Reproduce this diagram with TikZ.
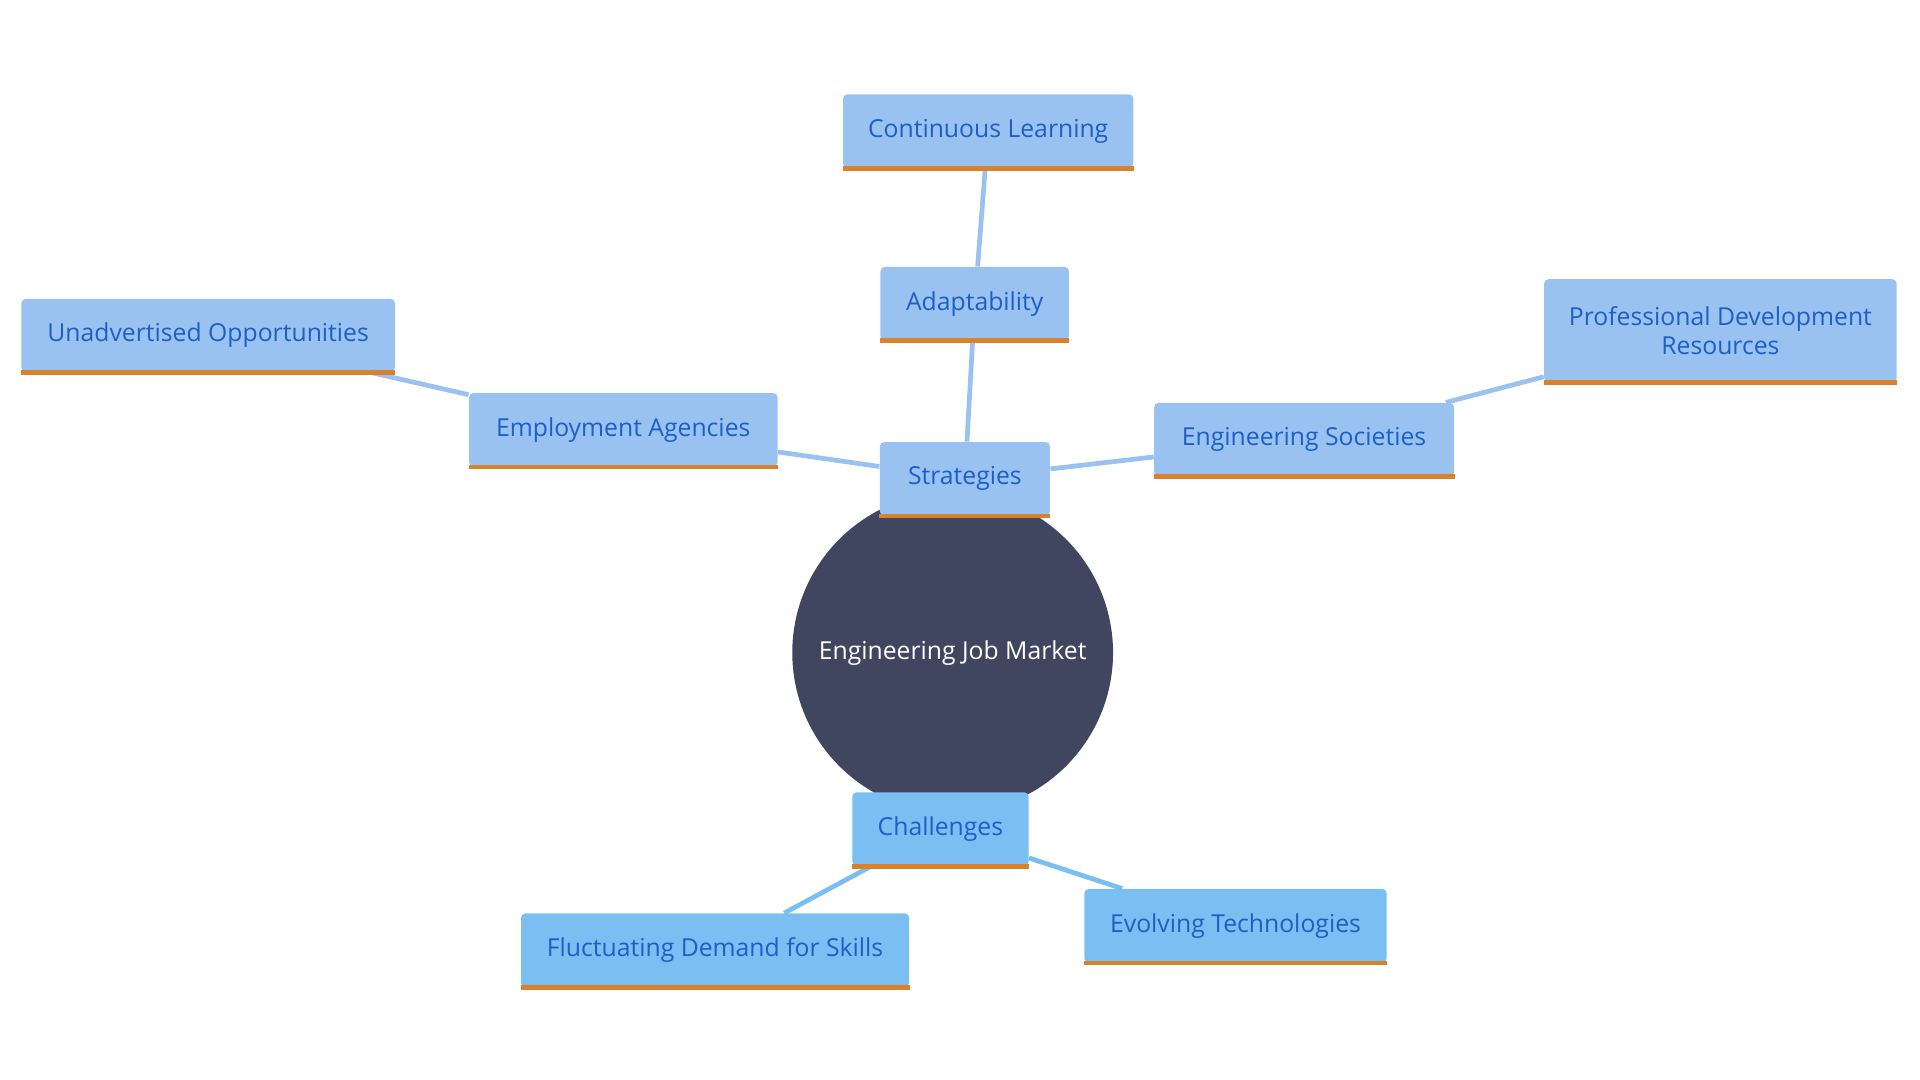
\documentclass[tikz,border=0pt]{standalone}
\usepackage{fontspec}
\setmainfont{Open Sans}
\usetikzlibrary{backgrounds}
\definecolor{hub}{HTML}{404560}
\definecolor{boxa}{HTML}{9AC2F0}
\definecolor{boxb}{HTML}{7BBEF2}
\definecolor{txt}{HTML}{1C5FC6}
\definecolor{rim}{HTML}{D9822B}
\tikzset{
  leaf/.style={fill=boxa,text=txt,font=\fontsize{11.5}{13.5}\selectfont,align=center,minimum height=1.2cm,inner xsep=0.3cm,rounded corners=2pt},
  leafb/.style={leaf,fill=boxb},
  link/.style={draw=boxa,line width=2.2pt},
  linkb/.style={draw=boxb,line width=2.2pt},
}
\newcommand{\rimline}[1]{\draw[rim,line width=2.2pt] (#1.south west) -- (#1.south east);}
\begin{document}
\begin{tikzpicture}[x=0.02cm,y=-0.02cm]
  \useasboundingbox (0,0) rectangle (1568,882);
  %hub
  \node[circle,fill=hub,text=white,minimum size=5.24cm,font=\fontsize{11.5}{13.5}\selectfont] (market) at (778,533) {Engineering Job Market};

  %strategies branch
  \node[leaf,minimum width=2.78cm] (strat) at (788,391) {Strategies};
  \node[leaf,minimum width=3.08cm] (adapt) at (796,248) {Adaptability};
  \node[leaf,minimum width=4.74cm] (learn) at (807,107) {Continuous Learning};
  \node[leaf,minimum width=5.04cm] (agency) at (509,351) {Employment Agencies};
  \node[leaf,minimum width=6.1cm] (unadv) at (170,274) {Unadvertised Opportunities};
  \node[leaf,minimum width=4.9cm] (society) at (1065,359) {Engineering Societies};
  \node[leaf,minimum width=5.76cm,minimum height=1.68cm] (profdev) at (1405,270) {Professional Development\\Resources};

  %challenges branch
  \node[leafb,minimum width=2.88cm] (chall) at (768,677) {Challenges};
  \node[leafb,minimum width=6.34cm] (demand) at (584,776) {Fluctuating Demand for Skills};
  \node[leafb,minimum width=4.94cm] (tech) at (1009,756) {Evolving Technologies};

  \foreach \n in {strat,adapt,learn,agency,unadv,society,profdev,chall,demand,tech}
    {\rimline{\n}}

  \begin{scope}[on background layer]
    \draw[link] (strat) -- (adapt);
    \draw[link] (adapt) -- (learn);
    \draw[link] (strat) -- (agency);
    \draw[link] (agency) -- (unadv);
    \draw[link] (strat) -- (society);
    \draw[link] (society) -- (profdev);
    \draw[linkb] (chall) -- (demand);
    \draw[linkb] (chall) -- (tech);
  \end{scope}
\end{tikzpicture}
\end{document}
